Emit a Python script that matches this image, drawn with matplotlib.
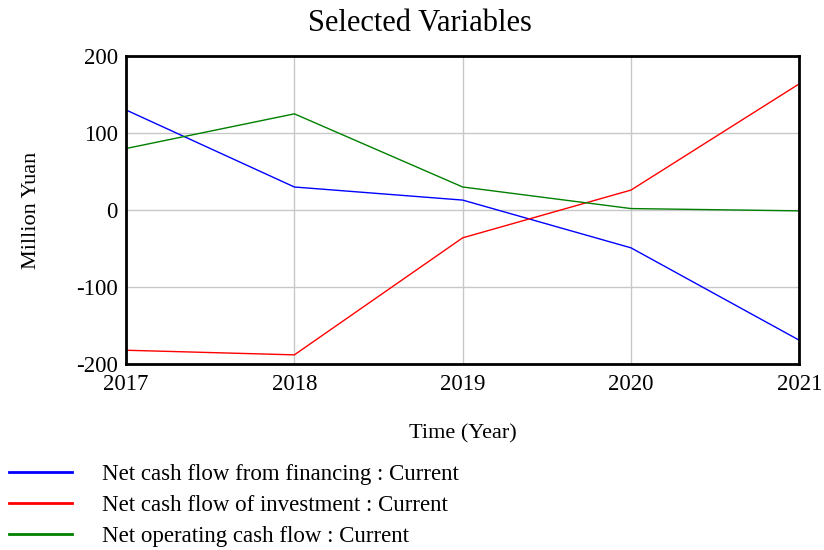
import numpy as np
import matplotlib.pyplot as plt

plt.rcParams['font.family'] = ['Liberation Serif', 'DejaVu Serif']
plt.rcParams['axes.unicode_minus'] = False

years = [2017, 2018, 2019, 2020, 2021]
financing = [130, 30, 13, -49, -169]
investment = [-182, -188, -36, 26, 164]
operating = [80, 125, 30, 2, -1]

labels = ['Net cash flow from financing : Current',
          'Net cash flow of investment : Current',
          'Net operating cash flow : Current']

fig = plt.figure(figsize=(8.24, 5.5), dpi=100)
ax = fig.add_axes([0.153, 0.338, 0.817, 0.560])

ax.plot(years, financing, color='#0000ff', lw=1, label=labels[0])
ax.plot(years, investment, color='#ff0000', lw=1, label=labels[1])
ax.plot(years, operating, color='#008000', lw=1, label=labels[2])

ax.set_xlim(2017, 2021)
ax.set_ylim(-200, 200)
ax.set_xticks(years)
ax.set_yticks([-200, -100, 0, 100, 200])
ax.grid(True, color='#c8c8c8', lw=1)
ax.set_axisbelow(True)
ax.tick_params(length=0, labelsize=16.5)
ax.tick_params(axis='y', pad=6)
ax.tick_params(axis='x', pad=7)
for s in ax.spines.values():
    s.set_linewidth(2)

# title sits centred on the figure, not the axes
fig.text(0.51, 0.957, 'Selected Variables', fontsize=22, ha='center', va='center')
ax.set_xlabel('Time (Year)', fontsize=16, labelpad=21)
ax.set_ylabel('Million Yuan', fontsize=16, labelpad=25)

handles, labs = ax.get_legend_handles_labels()
leg = fig.legend(handles, labs, loc='upper left', bbox_to_anchor=(0.0, 0.173),
                 frameon=False, fontsize=16.5, handlelength=2.75, handletextpad=1.3,
                 labelspacing=0.43, borderaxespad=0)
for line in leg.get_lines():
    line.set_linewidth(2)

fig.savefig('out.png', dpi=100)
